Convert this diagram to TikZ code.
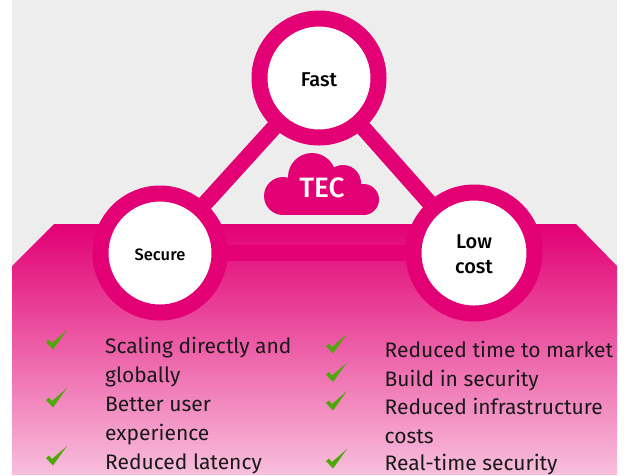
\documentclass[tikz,border=0pt]{standalone}
\usepackage{fontspec}
\setmainfont{Fira Sans}[BoldFont=Fira Sans Medium]
\usepackage{xcolor}
\usetikzlibrary{positioning}
\definecolor{telemagenta}{HTML}{E20074}
\definecolor{lightgrey}{HTML}{EDEDED}
\definecolor{checkgreen}{HTML}{4FA80A}
\newcommand{\lowered}[1]{\raisebox{-1.5pt}[\height][\depth]{#1}}
\tikzset{
    goal/.style={
        circle,
        draw=telemagenta,
        fill=white,
        line width=16pt,
        minimum size=119pt,
        inner sep=0pt,
        outer sep=0pt,
        align=center,
        font=\fontsize{20}{25}\selectfont\bfseries
    },
    link/.style={
        draw=telemagenta,
        line width=16pt
    },
    item/.style={
        anchor=base west,
        inner sep=0pt,
        text=black!90,
        font=\fontsize{21}{25}\selectfont
    },
    tick/.pic={
        \fill[checkgreen] (0,12) -- (3,9.5) -- (6,13) -- (21,0) -- (7,19.5) -- cycle;
    }
}
\begin{document}
\begin{tikzpicture}[x=1pt,y=-1pt]
    \useasboundingbox (0,0) rectangle (626,475);
    % Background
    \fill[lightgrey] (12,0) rectangle (617,475);
    \shade[top color=telemagenta, middle color=telemagenta!65!white, bottom color=telemagenta!25!white]
        (12,266) -- (54,224) -- (576,224) -- (617,266) -- (617,475) -- (12,475) -- cycle;

    % Cloud
    \begin{scope}[telemagenta]
        \fill (283,196) circle (19);
        \fill (312,177) circle (24);
        \fill (343,183) circle (18);
        \fill (363.5,199.5) circle (15.5);
        \fill (283,185) rectangle (363.5,215);
    \end{scope}
    \node[text=white, inner sep=0pt, font=\fontsize{28}{28}\selectfont\bfseries] (tec) at (322,188) {TEC};

    % Circles
    \node[goal] (fast) at (319,78) {\lowered{Fast}};
    \node[goal] (secure) at (160,253) {\fontsize{16.5}{20}\selectfont\lowered{Secure}};
    \node[goal, minimum size=121pt] (lowcost) at (474,253) {\lowered{Low}\\\lowered{cost}};

    % Links
    \draw[link] (fast) -- (secure);
    \draw[link] (fast) -- (lowcost);
    \draw[link] (secure) -- (lowcost);

    % Left column
    \node[item] (s1) at (105,353) {Scaling directly and};
    \node[item] (s2) at (105,382) {globally};
    \node[item] (s3) at (105,411) {Better user};
    \node[item] (s4) at (105,440) {experience};
    \node[item] (s5) at (105,469) {Reduced latency};
    \foreach \y in {330,388,446}
        \pic at (46,\y) {tick};

    % Right column
    \node[item] (c1) at (384.5,357) {Reduced time to market};
    \node[item] (c2) at (384.5,386) {Build in security};
    \node[item] (c3) at (384.5,414) {Reduced infrastructure};
    \node[item] (c4) at (384.5,443) {costs};
    \node[item] (c5) at (384.5,470) {Real-time security};
    \foreach \y in {334,362.5,391,449}
        \pic at (326,\y) {tick};
\end{tikzpicture}
\end{document}
